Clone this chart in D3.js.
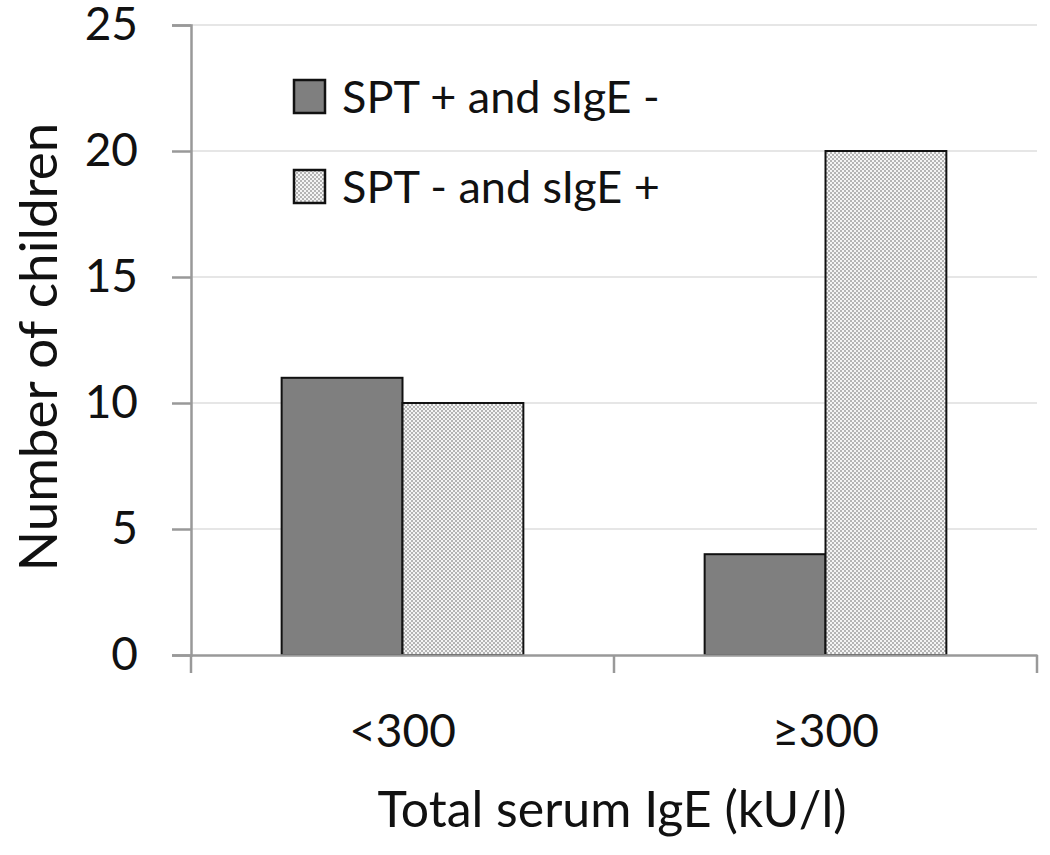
<!DOCTYPE html>
<html>
<head>
<meta charset="UTF-8">
<script src="https://d3js.org/d3.v7.min.js"></script>
<style>
  body { margin: 0; background: #fff; }
  text { font-family: Lato, "Open Sans", sans-serif; fill: #111; }
</style>
</head>
<body>
<svg width="1050" height="855"></svg>
<script>
// data
var categories = ["<300", "\u2265300"];
var series = ["SPT + and sIgE -", "SPT - and sIgE +"];
var spt_pos = [11, 4];
var sige_pos = [10, 20];
var yTicks = [0, 5, 10, 15, 20, 25];

var svg = d3.select("svg");
var xLeft = 191, xRight = 1037, yTop = 25, yBottom = 655;

var defs = svg.append("defs");
var pat = defs.append("pattern")
    .attr("id", "dots")
    .attr("patternUnits", "userSpaceOnUse")
    .attr("width", 4).attr("height", 4);
pat.append("rect").attr("width", 4).attr("height", 4).attr("fill", "#f4f4f4");
pat.append("rect").attr("width", 2).attr("height", 2).attr("fill", "#b4b4b4");
pat.append("rect").attr("x", 2).attr("y", 2).attr("width", 2).attr("height", 2).attr("fill", "#b4b4b4");

var fills = ["#7f7f7f", "url(#dots)"];

var x = d3.scaleBand().domain(categories).range([xLeft, xRight]);
var x1 = d3.scaleBand().domain(series).range([0, x.bandwidth()]).paddingOuter(0.75).paddingInner(0);
var y = d3.scaleLinear().domain([0, 25]).range([yBottom, yTop]);

// gridlines
svg.append("g").selectAll("line")
    .data(yTicks.slice(1))
    .enter().append("line")
    .attr("x1", xLeft).attr("x2", xRight)
    .attr("y1", function(d) { return y(d); })
    .attr("y2", function(d) { return y(d); })
    .attr("stroke", "#e6e6e6").attr("stroke-width", 2);

// bars
var rows = categories.map(function(c, i) {
    return [{ cat: c, s: series[0], v: spt_pos[i], k: 0 },
            { cat: c, s: series[1], v: sige_pos[i], k: 1 }];
});
svg.append("g").selectAll("g")
    .data(rows)
    .enter().append("g")
    .attr("transform", function(d) { return "translate(" + x(d[0].cat) + ",0)"; })
    .selectAll("rect")
    .data(function(d) { return d; })
    .enter().append("rect")
    .attr("x", function(d) { return x1(d.s); })
    .attr("y", function(d) { return y(d.v); })
    .attr("width", x1.bandwidth())
    .attr("height", function(d) { return y(0) - y(d.v); })
    .attr("fill", function(d) { return fills[d.k]; })
    .attr("stroke", "#111").attr("stroke-width", 2);

// y axis
var yAxis = svg.append("g")
    .attr("transform", "translate(" + xLeft + ",0)")
    .call(d3.axisLeft(y).tickValues(yTicks).tickSize(19).tickPadding(34));
yAxis.select(".domain").attr("stroke", "#999").attr("stroke-width", 2.5);
yAxis.selectAll(".tick line").attr("stroke", "#999").attr("stroke-width", 2.5);
yAxis.selectAll(".tick text").attr("font-size", 46).attr("font-family", "Lato, sans-serif").attr("fill", "#111");

// x axis
var xAxis = svg.append("g")
    .attr("transform", "translate(0," + yBottom + ")")
    .call(d3.axisBottom(x).tickSize(0).tickPadding(59));
xAxis.select(".domain").attr("stroke", "#999").attr("stroke-width", 2.5);
xAxis.selectAll(".tick text").attr("font-size", 46).attr("font-family", "Lato, sans-serif").attr("fill", "#111");
xAxis.append("g").selectAll("line")
    .data([xLeft, xLeft + x.bandwidth(), xRight])
    .enter().append("line")
    .attr("x1", function(d) { return d; }).attr("x2", function(d) { return d; })
    .attr("y1", 0).attr("y2", 18)
    .attr("stroke", "#999").attr("stroke-width", 2.5);

// titles
svg.append("text")
    .attr("x", 612).attr("y", 827)
    .attr("text-anchor", "middle").attr("font-size", 50)
    .text("Total serum IgE (kU/l)");
svg.append("text")
    .attr("transform", "translate(57,347) rotate(-90)")
    .attr("text-anchor", "middle").attr("font-size", 53)
    .text("Number of children");

// legend
var leg = svg.append("g").selectAll("g")
    .data(series)
    .enter().append("g")
    .attr("transform", function(d, i) { return "translate(294," + (80 + i * 90) + ")"; });
leg.append("rect")
    .attr("width", 31).attr("height", 33)
    .attr("fill", function(d, i) { return fills[i]; })
    .attr("stroke", "#111").attr("stroke-width", 2.5);
leg.append("text")
    .attr("x", 48).attr("y", 33)
    .attr("font-size", 45)
    .text(function(d) { return d; });
</script>
</body>
</html>
